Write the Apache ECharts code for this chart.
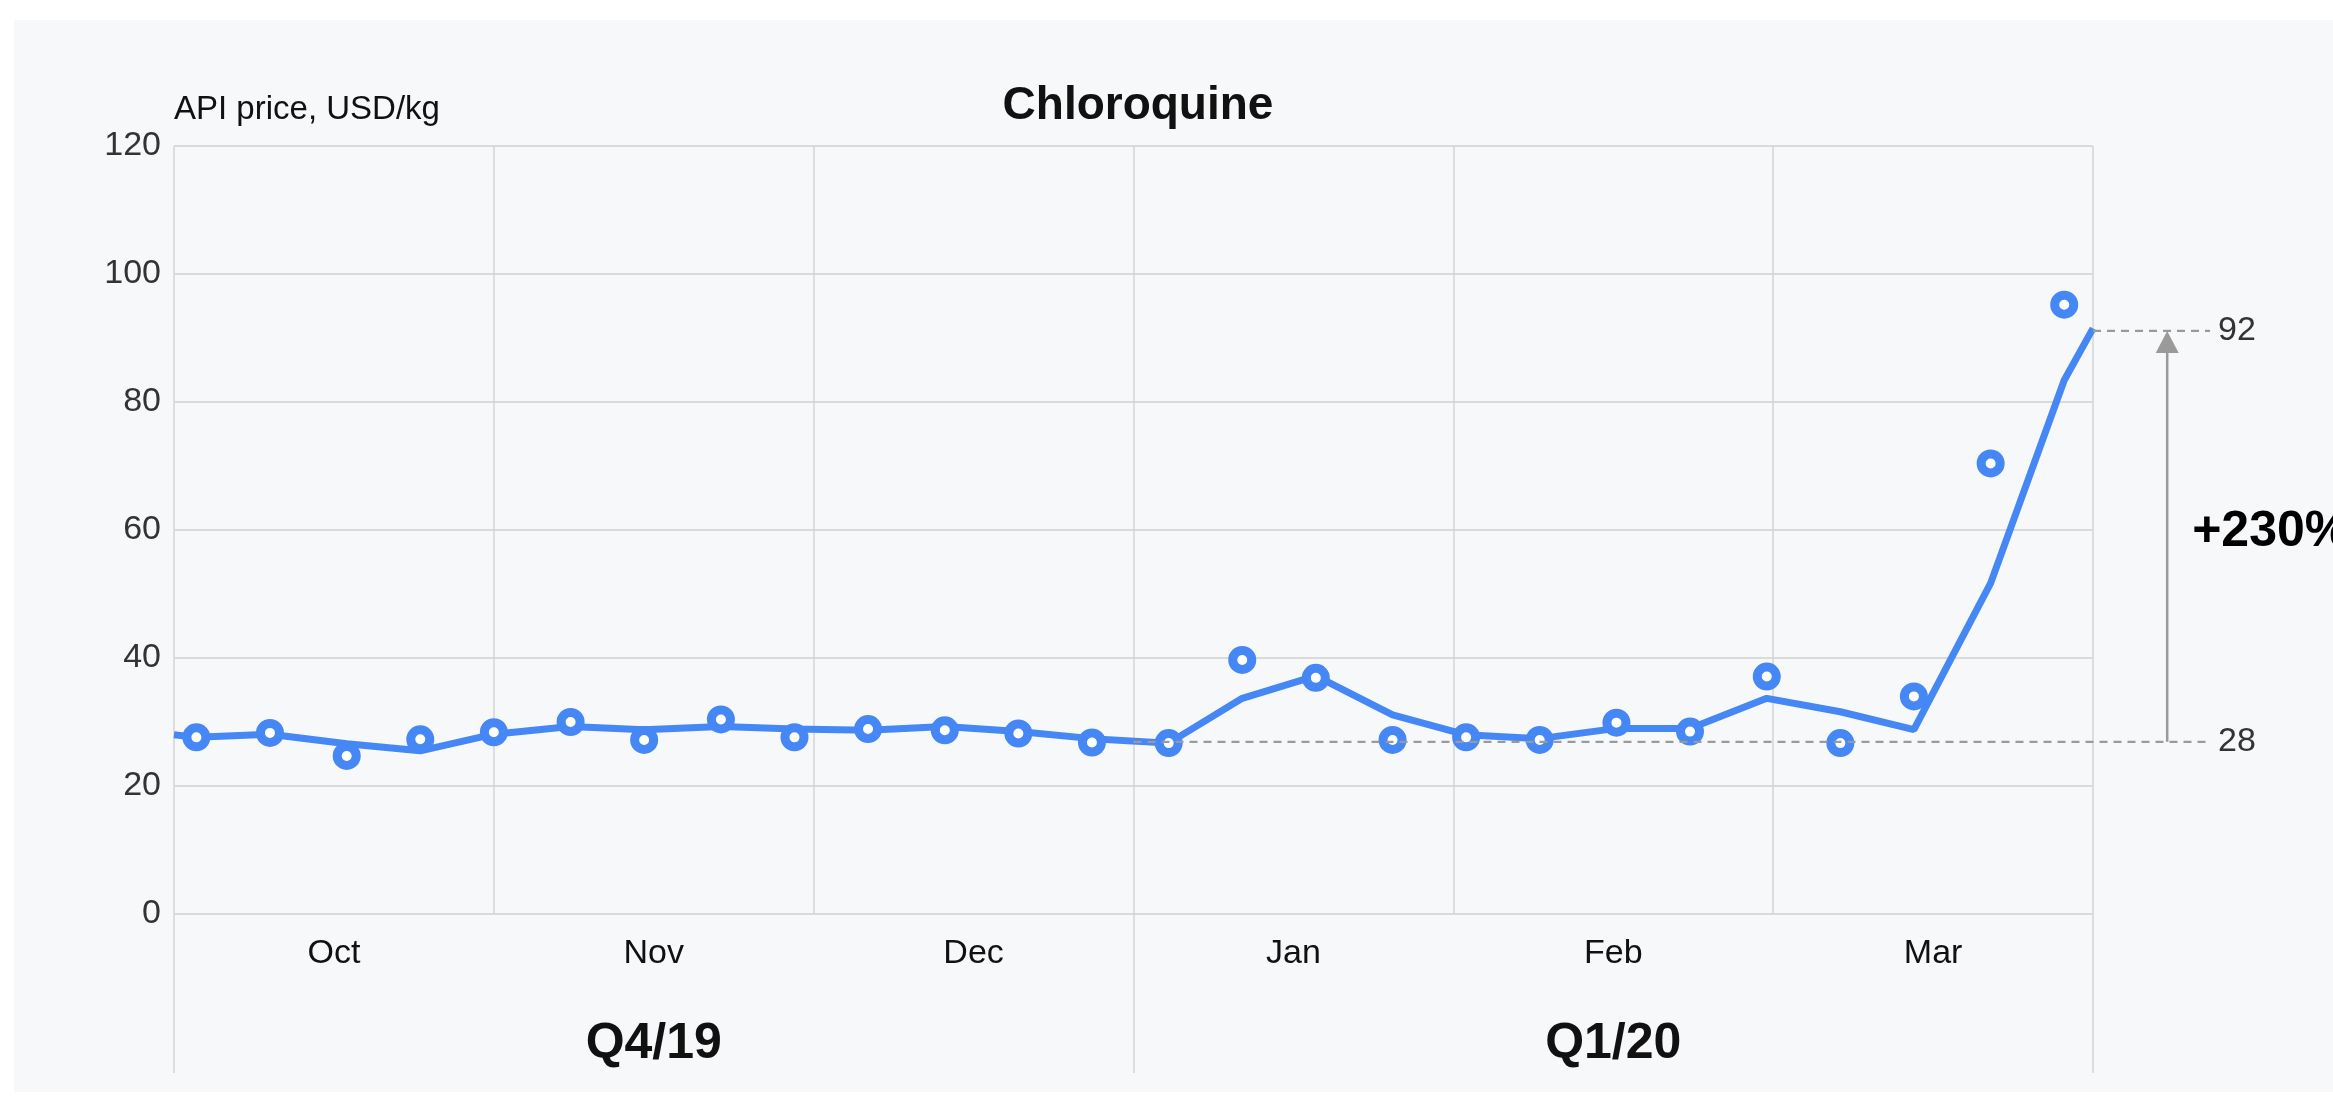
<!DOCTYPE html>
<html>
<head>
<meta charset="utf-8">
<title>Chloroquine API price</title>
<script src="https://cdn.jsdelivr.net/npm/echarts@6/dist/echarts.min.js"></script>
<style>
  html, body { margin: 0; padding: 0; background: #fff; }
  #chart { width: 2333px; height: 1097px; }
</style>
</head>
<body>
<div id="chart"></div>
<script>
// months on the x axis (one unit = one month, 0 = start of Oct)
var months = ['Oct', 'Nov', 'Dec', 'Jan', 'Feb', 'Mar'];
var quarters = ['Q4/19', 'Q1/20'];
var yTicks = [0, 20, 40, 60, 80, 100, 120];

// weekly price points (USD/kg), position in months
var weekPos = [0.07, 0.30, 0.54, 0.77, 1.00, 1.24, 1.47, 1.71, 1.94, 2.17, 2.41, 2.64, 2.87,
               3.11, 3.34, 3.57, 3.81, 4.04, 4.27, 4.51, 4.74, 4.98, 5.21, 5.44, 5.68, 5.91];
var weeklyPrice = [27.6, 28.3, 24.7, 27.3, 28.4, 30.0, 27.2, 30.4, 27.6, 28.9, 28.7, 28.2, 26.8,
                   26.7, 39.7, 36.9, 27.2, 27.6, 27.2, 29.9, 28.5, 37.1, 26.7, 34.0, 70.4, 95.2];

// trend line: starts at left edge, then one vertex per week, ends at right edge
var trendPos = [0].concat(weekPos, [6]);
var trendPrice = [28.0, 27.6, 28.1, 26.6, 25.5, 28.1, 29.3, 28.8, 29.3, 28.9, 28.7, 29.3, 28.5, 27.4,
                  26.7, 33.7, 37.2, 31.1, 28.0, 27.4, 29.0, 29.0, 33.7, 31.6, 28.8, 51.7, 83.4, 91.5];

// annotation: start of Q1/20 vs latest
var baseLevel = 26.9, peakLevel = 91.1;
var baseLabel = '28', peakLabel = '92', changeLabel = '+230%';

// where the annotation sits (axis units, to the right of the plot)
var refStartX = 3, peakStartX = 6, refEndX = 6.366, arrowX = 6.232;
var changePos = [6.31, 59.7];

var FONT = '"Liberation Sans", Arial, Helvetica, sans-serif';
var BLUE = '#4587f4';
var GREY = '#9a9a9a';

function pairs(xs, ys) {
  return xs.map(function (x, i) { return [x, ys[i]]; });
}

function renderAnnotation(params, api) {
  var base = api.value(1), peak = api.value(2);
  var b0 = api.coord([api.value(0), base]);
  var b1 = api.coord([refEndX, base]);
  var p0 = api.coord([peakStartX, peak]);
  var p1 = api.coord([refEndX, peak]);
  var a0 = api.coord([arrowX, base]);
  var a1 = api.coord([arrowX, peak]);
  var c = api.coord(changePos);
  var dash = { stroke: GREY, lineWidth: 2.2, lineDash: [8, 6], fill: null };
  var num = { fill: '#333', fontSize: 34, fontFamily: FONT, verticalAlign: 'middle', align: 'left' };
  var headH = 22, headW = 23;
  return {
    type: 'group',
    children: [
      { type: 'line', shape: { x1: b0[0], y1: b0[1], x2: b1[0], y2: b1[1] }, style: dash },
      { type: 'line', shape: { x1: p0[0], y1: p0[1], x2: p1[0], y2: p1[1] }, style: dash },
      { type: 'line', shape: { x1: a0[0], y1: a0[1], x2: a1[0], y2: a1[1] + headH - 2 },
        style: { stroke: GREY, lineWidth: 2.5 } },
      { type: 'polygon',
        shape: { points: [[a1[0], a1[1]], [a1[0] + headW / 2, a1[1] + headH], [a1[0] - headW / 2, a1[1] + headH]] },
        style: { fill: GREY } },
      { type: 'text', x: b1[0] + 8, y: b1[1], style: Object.assign({ text: baseLabel }, num) },
      { type: 'text', x: p1[0] + 8, y: p1[1], style: Object.assign({ text: peakLabel }, num) },
      { type: 'text', x: c[0], y: c[1],
        style: { text: changeLabel, fill: '#000', fontSize: 50, fontWeight: 'bold', fontFamily: FONT,
                 verticalAlign: 'middle', align: 'left' } }
    ]
  };
}

var chart = echarts.init(document.getElementById('chart'));

var option = {
  backgroundColor: '#ffffff',
  animation: false,
  textStyle: { fontFamily: FONT },
  graphic: [{
    type: 'rect', z: -10, silent: true,
    shape: { x: 14, y: 20, width: 2333, height: 1072 },
    style: { fill: '#f7f8fa' }
  }],
  title: {
    text: 'Chloroquine',
    left: 1133,
    top: 78,
    textAlign: 'center',
    textStyle: { fontSize: 46, fontWeight: 'bold', color: '#111', fontFamily: FONT }
  },
  grid: { left: 174, top: 146, width: 1919, height: 768, containLabel: false },
  xAxis: [
    {
      type: 'value', min: 0, max: 6, interval: 1,
      axisLine: { show: false }, axisTick: { show: false }, axisLabel: { show: false },
      splitLine: { show: true, lineStyle: { color: '#d4d4d4', width: 1.5 } }
    },
    {
      type: 'category', data: months, position: 'bottom', boundaryGap: true,
      axisLine: { show: false }, axisTick: { show: false }, splitLine: { show: false },
      axisLabel: { margin: 40, verticalAlign: 'middle', fontSize: 34, color: '#111', fontFamily: FONT }
    },
    {
      type: 'category', data: quarters, position: 'bottom', boundaryGap: true,
      axisLine: { show: false }, splitLine: { show: false },
      axisTick: { show: true, interval: 0, length: 159, lineStyle: { color: '#d4d4d4', width: 1.5 } },
      axisLabel: { margin: 130, verticalAlign: 'middle', fontSize: 50, fontWeight: 'bold', color: '#111', fontFamily: FONT }
    }
  ],
  yAxis: {
    type: 'value', min: yTicks[0], max: yTicks[yTicks.length - 1], interval: yTicks[1] - yTicks[0],
    name: 'API price, USD/kg',
    nameLocation: 'end',
    nameGap: 36,
    nameTextStyle: { align: 'left', verticalAlign: 'middle', fontSize: 33, color: '#111', fontFamily: FONT },
    axisLine: { show: false }, axisTick: { show: false },
    axisLabel: { margin: 13, fontSize: 34, color: '#333', fontFamily: FONT },
    splitLine: { lineStyle: { color: '#dadada', width: 2 } }
  },
  series: [
    {
      name: 'trend', type: 'line', xAxisIndex: 0, z: 3,
      data: pairs(trendPos, trendPrice),
      showSymbol: false, symbol: 'none',
      lineStyle: { color: BLUE, width: 7 },
      silent: true
    },
    {
      name: 'weekly', type: 'scatter', xAxisIndex: 0, z: 4,
      data: pairs(weekPos, weeklyPrice),
      symbol: 'circle', symbolSize: 19,
      itemStyle: { color: '#ffffff', borderColor: BLUE, borderWidth: 9, opacity: 1 },
      silent: true
    },
    {
      name: 'annotation', type: 'custom', xAxisIndex: 0, clip: false, z: 5, silent: true,
      encode: { x: 0, y: [1, 2] },
      data: [[refStartX, baseLevel, peakLevel]],
      renderItem: renderAnnotation
    }
  ]
};

chart.setOption(option);
</script>
</body>
</html>
